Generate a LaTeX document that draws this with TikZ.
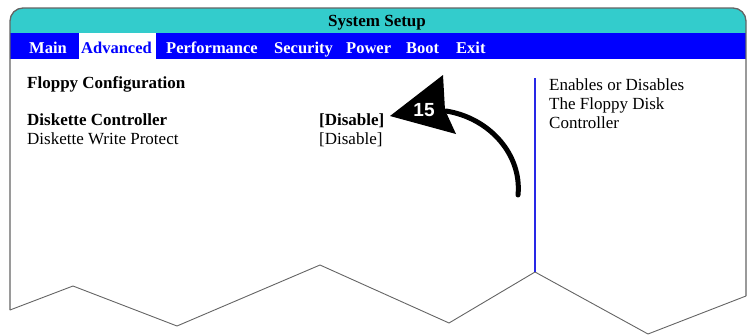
\documentclass[tikz,border=0pt]{standalone}
\usepackage{fontspec}
\setmainfont{Liberation Serif}
\newfontfamily\arrowfont{Liberation Sans}
\usepackage{tikz}
\usetikzlibrary{positioning}

\definecolor{barteal}{RGB}{51,204,204}
\definecolor{menublue}{RGB}{0,0,255}
\definecolor{rulegray}{RGB}{100,100,100}
\definecolor{divblue}{RGB}{40,40,230}

\begin{document}
\begin{tikzpicture}[x=1pt,y=-1pt,
    txt/.style={anchor=base west,inner sep=0pt,font=\fontsize{17}{19}\selectfont},
    menu/.style={anchor=base west,inner sep=0pt,text=white,
        font=\fontsize{16.5}{19}\selectfont\bfseries}]
\useasboundingbox (0,0) rectangle (748,335);
% title bar and menu bar
\path[fill=barteal] (10,33) [rounded corners=13pt] -- (10,8) -- (746,8)
    [sharp corners] -- (746,33) -- cycle;
\fill[menublue] (10,33) rectangle (746,59);
\fill[white] (79,33) rectangle (156,59);
% frame with torn bottom edge
\draw[rulegray,line width=1.3pt] (10,310) [rounded corners=13pt] -- (10,8) -- (746,8)
    [sharp corners] -- (746,296);
\draw[rulegray,line width=0.9pt] (10,310) -- (73,286) -- (177,326) -- (320,265) -- (449,323)
    -- (535,272) -- (648,334) -- (746,296);
\draw[divblue,line width=1.5pt] (535,78) -- (535,272);

\node[anchor=base,inner sep=0pt,font=\fontsize{17}{19}\selectfont\bfseries]
    (title) at (377,26) {System Setup};
\node[menu] (mmain) at (29,53) {Main};
\node[menu,text=menublue] (madv) at (81,53) {Advanced};
\node[menu] (mperf) at (166,53) {Performance};
\node[menu] (msec) at (274,53) {Security};
\node[menu] (mpow) at (346,53) {Power};
\node[menu] (mboot) at (406,53) {Boot};
\node[menu] (mexit) at (456,53) {Exit};

\node[txt,font=\fontsize{17}{19}\selectfont\bfseries] (floppy) at (27,88.5) {Floppy Configuration};
\node[txt,font=\fontsize{17}{19}\selectfont\bfseries] (dctrl) at (27,125.5) {Diskette Controller};
\node[txt] (dwp) at (27,144.3) {Diskette Write Protect};
\node[txt,font=\fontsize{17}{19}\selectfont\bfseries] (dis) at (319,125.5) {[Disable]};
\node[txt] (dis2) at (319,144.3) {[Disable]};

\node[txt] (help1) at (549,90.5) {Enables or Disables};
\node[txt] (help2) at (549,109.5) {The Floppy Disk};
\node[txt] (help3) at (549,128.5) {Controller};

% callout arrow 15
\coordinate (tip) at (390,116);
\coordinate (neck) at (446,111);
\coordinate (tail) at (518,195);
\draw[line width=5pt,line cap=round] (neck) .. controls (490,118) and (522,155) .. (tail);
\fill (tip) -- (443,75) -- (445,110) -- (456,134) -- cycle;
\node[text=white,inner sep=0pt,font=\arrowfont\fontsize{19}{19}\selectfont\bfseries]
    (num) at (424,110) {15};
\end{tikzpicture}
\end{document}
